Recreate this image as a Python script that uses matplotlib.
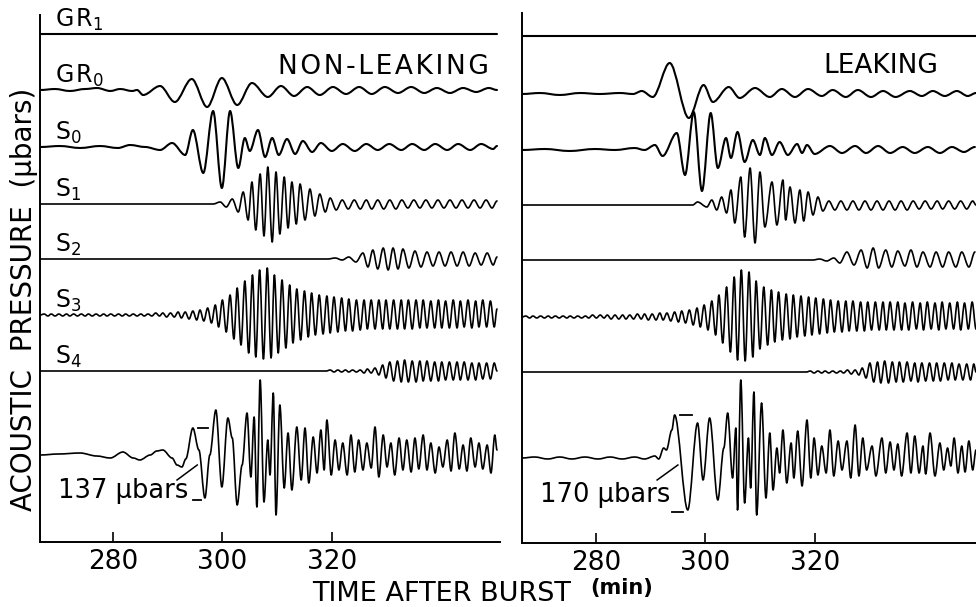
import matplotlib
matplotlib.use("Agg")
import matplotlib.pyplot as plt
from matplotlib.path import Path
from matplotlib.patches import PathPatch

# ---------------- DATA (time in min, pressure in relative units; extrema) -------------
trace_labels = ["GR1", "GR0", "S0", "S1", "S2", "S3", "S4", "TOTAL"]
panel_titles = ["NON-LEAKING", "LEAKING"]
cal_labels = ["137 \u00b5bars", "170 \u00b5bars"]
tick_values = [280, 300, 320]
tick_labels = ["280", "300", "320"]

gr1_left = [(266.7, 0), (350.2, 0)]
gr0_left = [(266.7,0),(269.4,1),(272.1,-1),(274.9,1),(277.1,2),(279.5,-1),(281.3,1),(283.5,-1),(284.4,0),(285.5,-5),
            (288.6,4),(291.3,-12),(294.4,11),(297.2,-17),(299.9,12),(302.7,-15),(305.4,7),(308.3,-7),(310.7,4),(313.1,-6),
            (315.5,3),(317.8,-5),(320.2,3),(322.6,-4),(325.0,3),(327.3,-4),(329.7,3),(332.1,-3),(334.5,3),(336.9,-3),
            (339.2,2),(341.6,-3),(344.0,2),(346.4,-2),(348.7,2),(350.2,0)]
s0_left = [(266.7,0),(270.3,1),(274.0,-1),(277.6,1),(280.9,-1),(283.1,2),(285.9,0),(288.6,-3),(290.8,4),(293.2,-8),
           (294.6,17),(296.5,-26),(298.3,36),(299.9,-41),(301.4,36),(302.9,-21),(304.1,9),(305.0,-4),(306.5,17),(307.8,-10),
           (309.1,9),(310.3,-8),(311.8,8),(313.3,-7),(314.7,6),(316.4,-5),(318.0,4),(320.0,-4),(322.0,3),(324.2,-4),
           (326.3,3),(328.4,-3),(330.5,3),(332.7,-3),(334.7,3),(336.9,-3),(338.9,3),(341.1,-3),(343.1,3),(345.3,-3),
           (347.3,3),(349.5,-2),(350.2,1)]
s1_left = [(266.7,0),(298.3,0),(299.6,2),(300.7,-3),(301.8,5),(302.9,-8),(303.8,12),(304.7,-16),(305.4,22),(306.1,-26),
           (306.9,30),(307.6,-32),(308.3,37),(309.1,-38),(309.8,32),(310.5,-30),(311.3,27),(312.0,-24),(312.7,22),(313.5,-20),
           (314.2,20),(315.1,-16),(316.0,15),(316.9,-12),(317.8,10),(318.8,-8),(319.7,6),(320.8,-6),(321.9,4),(323.0,-5),
           (324.1,4),(325.2,-5),(326.3,4),(327.3,-5),(328.4,4),(329.5,-5),(330.6,4),(331.7,-5),(332.8,4),(333.9,-4),
           (335.0,4),(336.1,-4),(337.2,4),(338.3,-4),(339.4,4),(340.5,-4),(341.6,4),(342.7,-4),(343.8,4),(344.9,-4),
           (346.0,4),(347.1,-4),(348.2,4),(349.3,-4),(350.2,3)]
s2_left = [(266.7,0),(319.3,0),(320.6,1),(321.9,-1),(323.1,2),(324.4,-3),(325.7,6),(326.6,-8),(327.5,9),(328.4,-10),
           (329.4,11),(330.3,-11),(331.2,11),(332.1,-10),(333.0,10),(334.1,-9),(335.2,8),(336.3,-8),(337.4,7),(338.5,-7),
           (339.6,7),(340.7,-7),(341.8,7),(342.9,-7),(344.0,7),(345.1,-7),(346.2,6),(347.3,-6),(348.4,6),(349.5,-6),(350.2,2)]
s3_left = [(266.7,0),(267.4,1),(268.1,-1),(268.7,1),(269.4,-1),(270.1,1),(270.8,-1),(271.5,1),(272.1,-1),(272.8,1),
           (273.5,-1),(274.2,1),(274.9,-1),(275.5,1),(276.2,-1),(276.9,1),(277.6,-1),(278.3,1),(278.9,-1),(279.6,1),
           (280.3,-1),(281.0,1),(281.7,-1),(282.3,1),(283.0,-1),(283.7,1),(284.4,-1),(285.1,1),(285.7,-1),(286.4,1),
           (287.1,-1),(287.8,2),(288.5,-1),(289.1,2),(289.8,-2),(290.5,2),(291.2,-2),(291.9,3),(292.5,-3),(293.2,3),
           (293.9,-4),(294.6,4),(295.3,-5),(295.9,5),(296.6,-6),(297.3,7),(298.0,-8),(298.7,10),(299.3,-12),(300.0,15),
           (300.7,-17),(301.4,20),(302.1,-24),(302.7,27),(303.4,-30),(304.1,34),(304.8,-38),(305.5,40),(306.1,-42),(306.8,45),
           (307.5,-44),(308.2,47),(308.9,-43),(309.5,40),(310.2,-38),(310.9,35),(311.6,-33),(312.3,30),(312.9,-28),(313.6,26),
           (314.3,-25),(315.0,24),(315.7,-22),(316.3,22),(317.0,-20),(317.7,20),(318.4,-19),(319.1,19),(319.7,-18),(320.4,18),
           (321.1,-17),(321.8,17),(322.5,-16),(323.1,16),(323.8,-16),(324.5,15),(325.2,-15),(325.9,15),(326.5,-14),(327.2,15),
           (327.9,-14),(328.6,15),(329.3,-14),(329.9,15),(330.6,-14),(331.3,15),(332.0,-14),(332.7,15),(333.3,-14),(334.0,15),
           (334.7,-14),(335.4,15),(336.1,-13),(336.7,15),(337.4,-13),(338.1,14),(338.8,-13),(339.5,15),(340.1,-13),(340.8,14),
           (341.5,-13),(342.2,15),(342.9,-13),(343.5,14),(344.2,-12),(344.9,15),(345.6,-13),(346.3,14),(346.9,-12),(347.6,15),
           (348.3,-12),(349.0,14),(349.7,-12),(350.2,6)]
s4_left = [(266.7,0),(319.0,0),(319.7,1),(320.4,-1),(321.1,1),(321.8,-1),(322.5,1),(323.1,-1),(323.8,1),(324.5,-1),
           (325.2,1),(325.9,-2),(326.5,2),(327.2,-2),(327.9,3),(328.6,-4),(329.3,6),(329.9,-7),(330.6,9),(331.3,-10),
           (332.0,10),(332.7,-11),(333.3,11),(334.0,-11),(334.7,10),(335.4,-11),(336.1,10),(336.7,-10),(337.4,10),(338.1,-10),
           (338.8,9),(339.5,-10),(340.1,9),(340.8,-9),(341.5,9),(342.2,-9),(342.9,9),(343.5,-9),(344.2,9),(344.9,-9),
           (345.6,8),(346.3,-9),(346.9,8),(347.6,-8),(348.3,8),(349.0,-8),(349.7,8),(350.2,0)]
total_left = [(266.7,0),(270.0,1),(274.0,2),(277.0,-1),(279.5,-3),(281.8,3),(283.7,-3),(284.9,-5),(286.8,0),(288.0,4),
              (289.1,5),(290.8,-3),(291.7,-10),(292.6,-12),(293.3,-4),(294.6,27),(295.7,5),(296.8,-43),(297.7,0),(298.8,45),
              (299.9,-32),(301.0,37),(301.8,17),(302.7,-50),(303.6,-10),(304.5,42),(305.2,-22),(305.8,38),(306.3,-52),(306.9,75),
              (307.6,-47),(308.3,15),(308.7,-20),(309.3,62),(309.8,-60),(310.5,50),(311.3,-33),(312.0,22),(312.7,-35),(313.6,28),
              (314.4,-25),(315.1,27),(315.8,-28),(316.6,18),(317.3,-18),(318.0,25),(318.6,-15),(319.1,35),(319.9,-20),(320.6,15),
              (321.3,-15),(322.0,12),(322.8,-20),(323.5,20),(324.2,-17),(324.9,15),(325.7,-15),(326.4,12),(327.2,-13),(327.9,28),
              (328.6,-22),(329.4,20),(330.1,-12),(330.8,12),(331.5,-20),(332.3,17),(333.0,-15),(333.7,15),(334.5,-17),(335.2,17),
              (335.9,-14),(336.7,20),(337.4,-15),(338.1,12),(338.9,-18),(339.6,8),(340.3,-12),(341.1,15),(341.8,-16),(342.5,22),
              (343.3,-14),(344.0,10),(344.7,-16),(345.4,17),(346.2,-12),(346.9,12),(347.6,-14),(348.4,10),(349.1,-18),(349.8,20),
              (350.2,5)]

gr1_right = [(266.5, 0), (350.0, 0)]
gr0_right = [(266.5,0),(269.8,1),(273.4,-1),(277.1,1),(280.7,0),(284.4,1),(286.8,0),(288.4,3),(290.4,-3),(293.5,31),
             (297.0,-24),(299.7,9),(301.4,-8),(304.3,7),(306.3,-4),(309.1,6),(311.8,-3),(314.0,5),(316.4,-3),(318.8,5),
             (321.3,-2),(323.3,4),(325.7,-3),(327.9,4),(330.3,-3),(332.5,3),(334.8,-3),(337.4,3),(339.6,-2),(341.6,3),
             (343.8,-2),(346.0,3),(348.0,-2),(349.5,1)]
s0_right = [(266.5,0),(270.7,1),(275.2,-1),(279.8,1),(283.5,0),(287.1,2),(288.9,0),(290.8,5),(292.2,-6),(294.8,17),
            (296.3,-25),(297.9,38),(299.4,-41),(301.0,37),(302.3,-18),(303.8,12),(304.7,-8),(305.9,18),(307.2,-12),(308.7,10),
            (310.0,-5),(310.9,12),(312.2,-5),(313.6,8),(315.1,-5),(316.8,6),(317.7,-3),(318.6,5),(320.0,-4),(322.8,4),
            (325.0,-3),(327.4,4),(329.4,-3),(331.6,4),(333.8,-3),(336.1,3),(338.3,-3),(340.7,3),(342.9,-3),(345.1,3),
            (347.3,-2),(349.3,3)]
s1_right = [(266.5,0),(297.7,0),(298.6,3),(300.3,-2),(301.2,5),(302.1,-5),(303.0,8),(303.9,-8),(304.7,15),(305.4,-18),
            (306.5,28),(307.2,-32),(308.2,37),(309.1,-38),(310.0,33),(310.9,-22),(312.2,23),(313.1,-20),(314.2,25),(314.7,-15),
            (315.5,18),(316.4,-18),(317.3,15),(318.0,-16),(318.8,13),(319.7,-10),(320.6,8),(321.5,-6),(322.6,4),(323.7,-5),
            (324.8,4),(325.9,-5),(327.0,4),(328.1,-5),(329.2,4),(330.3,-5),(331.4,4),(332.5,-5),(333.6,4),(334.7,-5),
            (335.8,4),(336.9,-5),(338.0,4),(339.1,-4),(340.2,4),(341.3,-4),(342.4,4),(343.4,-4),(344.5,4),(345.6,-4),
            (346.7,4),(347.8,-4),(348.9,4),(349.5,0)]
s2_right = [(266.5,0),(319.7,0),(320.9,1),(322.2,-1),(323.5,2),(324.6,-3),(325.9,8),(327.2,-5),(328.5,10),(329.6,-8),
            (330.7,12),(331.7,-8),(333.0,10),(334.1,-7),(335.2,9),(336.5,-6),(337.6,10),(338.7,-7),(339.8,8),(341.1,-7),
            (342.2,8),(343.4,-7),(344.5,8),(345.8,-7),(346.9,8),(348.2,-7),(349.3,8)]
s3_right = [(266.5,0),(267.2,1),(267.9,-1),(268.5,1),(269.2,-1),(269.9,1),(270.6,-1),(271.3,1),(271.9,-1),(272.6,1),
            (273.3,-1),(274.0,1),(274.7,-1),(275.3,1),(276.0,-1),(276.7,1),(277.4,-1),(278.1,1),(278.7,-1),(279.4,2),
            (280.1,-1),(280.8,2),(281.5,-1),(282.1,2),(282.8,-2),(283.5,2),(284.2,-2),(284.9,2),(285.5,-2),(286.2,2),
            (286.9,-2),(287.6,3),(288.3,-2),(288.9,3),(289.6,-3),(290.3,3),(291.0,-3),(291.7,4),(292.3,-3),(293.0,4),
            (293.7,-4),(294.4,5),(295.1,-5),(295.7,6),(296.4,-6),(297.1,7),(297.8,-8),(298.5,9),(299.1,-10),(299.8,12),
            (300.5,-13),(301.2,16),(301.9,-18),(302.5,22),(303.2,-26),(303.9,30),(304.6,-35),(305.3,40),(305.9,-43),(306.6,47),
            (307.3,-44),(308.0,45),(308.7,-40),(309.3,36),(310.0,-32),(310.7,30),(311.4,-28),(312.1,27),(312.7,-25),(313.4,25),
            (314.1,-23),(314.8,23),(315.5,-22),(316.1,22),(316.8,-20),(317.5,21),(318.2,-19),(318.9,20),(319.5,-18),(320.2,19),
            (320.9,-17),(321.6,18),(322.3,-16),(322.9,17),(323.6,-15),(324.3,16),(325.0,-15),(325.7,16),(326.3,-14),(327.0,16),
            (327.7,-14),(328.4,15),(329.1,-14),(329.7,15),(330.4,-13),(331.1,15),(331.8,-13),(332.5,15),(333.1,-13),(333.8,15),
            (334.5,-13),(335.2,15),(335.9,-13),(336.5,14),(337.2,-13),(337.9,15),(338.6,-12),(339.3,14),(339.9,-13),(340.6,15),
            (341.3,-12),(342.0,14),(342.7,-13),(343.3,15),(344.0,-12),(344.7,14),(345.4,-12),(346.1,15),(346.7,-13),(347.4,14),
            (348.1,-12),(348.8,15),(349.5,-12)]
s4_right = [(266.5,0),(318.5,0),(319.2,1),(319.9,-1),(320.6,1),(321.3,-1),(321.9,1),(322.6,-1),(323.3,1),(324.0,-1),
            (324.7,1),(325.3,-1),(326.0,2),(326.7,-2),(327.4,2),(328.1,-3),(328.7,4),(329.4,-6),(330.1,9),(330.8,-10),
            (331.5,10),(332.1,-11),(332.8,11),(333.5,-11),(334.2,10),(334.9,-10),(335.5,10),(336.2,-10),(336.9,10),(337.6,-9),
            (338.3,9),(338.9,-10),(339.6,9),(340.3,-9),(341.0,9),(341.7,-9),(342.3,9),(343.0,-9),(343.7,9),(344.4,-8),
            (345.1,9),(345.7,-8),(346.4,8),(347.1,-8),(347.8,8),(348.5,-8),(349.1,8),(349.5,0)]
total_right = [(266.5,0),(268.8,1),(271.2,-1),(273.4,1),(275.6,-1),(278.0,1),(280.4,-1),(282.6,1),(284.8,-1),(287.1,1),
               (288.9,-1),(290.8,2),(291.5,-1),(292.4,10),(292.9,8),(293.9,28),(294.4,43),(296.8,-52),(298.6,35),(299.6,-22),
               (300.8,40),(302.3,-42),(303.4,10),(304.1,45),(305.0,-20),(305.6,30),(305.9,-52),(306.5,78),(307.2,-45),(307.9,20),
               (308.3,-30),(308.9,66),(309.4,-57),(310.3,55),(311.1,-40),(311.8,25),(312.4,-32),(313.1,10),(313.6,-15),(314.2,28),
               (314.9,-25),(315.7,15),(316.2,-20),(316.9,27),(317.7,-28),(318.6,38),(319.3,-20),(319.9,20),(320.6,-17),(321.3,12),
               (322.1,-15),(322.8,28),(323.5,-18),(324.3,17),(325.0,-12),(325.9,17),(326.6,-20),(327.4,33),(328.1,-18),(328.8,20),
               (329.5,-12),(330.5,12),(331.2,-18),(332.3,20),(333.0,-15),(333.8,16),(334.5,-12),(335.2,14),(335.9,-18),(336.9,25),
               (337.6,-15),(338.3,22),(339.1,-15),(339.8,12),(340.3,-16),(341.1,25),(342.0,-18),(342.9,15),(343.6,-12),(344.3,10),
               (344.9,-8),(345.5,20),(346.2,-15),(346.9,12),(347.5,-14),(348.2,17),(348.9,-12),(349.5,8)]

left_traces = [gr1_left, gr0_left, s0_left, s1_left, s2_left, s3_left, s4_left, total_left]
right_traces = [gr1_right, gr0_right, s0_right, s1_right, s2_right, s3_right, s4_right, total_right]

# ---------------- LAYOUT ----------------
W, H = 976, 607
plt.rcParams["font.family"] = ["DejaVu Sans"]
fig = plt.figure(figsize=(W / 100, H / 100), dpi=100)


def fbox(x0, y0, x1, y1):
    return [x0 / W, 1 - y1 / H, (x1 - x0) / W, (y1 - y0) / H]


axL = fig.add_axes(fbox(40, 15, 500, 542))
axR = fig.add_axes(fbox(522, 13, 976, 543))
HS = "\u200a"
panels = [
    dict(ax=axL, traces=left_traces, xlim=(266.65, 350.75), ylim=(0, 527),
         offsets=[508, 452, 395, 338, 283, 227, 171, 87], title_x=0.517, title_y=468, title_sp=HS,
         cal_text=(269.9, -43), cal_line=((291.7, -25), (295.4, -10)),
         cal_top=(0.9, 2.8), cal_bot=(-2.2, -0.7), labels=True),
    dict(ax=axR, traces=right_traces, xlim=(266.5, 349.5), ylim=(0, 530),
         offsets=[507, 449, 393, 338, 283, 226, 171, 85], title_x=0.663, title_y=470, title_sp="",
         cal_text=(269.8, -44), cal_line=((291.2, -22), (295.0, -7)),
         cal_top=(1.0, 3.2), cal_bot=(-2.9, -0.9), labels=False),
]

label_tex = ["G" + HS + r"R$_\mathregular{1}$", "G" + HS + r"R$_\mathregular{0}$", r"S$_\mathregular{0}$",
             r"S$_\mathregular{1}$", r"S$_\mathregular{2}$", r"S$_\mathregular{3}$", r"S$_\mathregular{4}$", None]


def smooth_path(pts, base):
    verts = [(pts[0][0], base + pts[0][1])]
    codes = [Path.MOVETO]
    for (t0, p0), (t1, p1) in zip(pts[:-1], pts[1:]):
        dt = t1 - t0
        verts += [(t0 + dt / 3, base + p0), (t1 - dt / 3, base + p1), (t1, base + p1)]
        codes += [Path.CURVE4] * 3
    return Path(verts, codes)


for i, P in enumerate(panels):
    ax = P["ax"]
    ax.set_xlim(*P["xlim"])
    ax.set_ylim(*P["ylim"])
    for name in ("top", "right"):
        ax.spines[name].set_visible(False)
    for name in ("left", "bottom"):
        ax.spines[name].set_linewidth(1.4)
    ax.set_yticks([])
    ax.set_xticks(tick_values)
    ax.set_xticklabels(tick_labels)
    ax.tick_params(axis="x", direction="in", length=7, width=1.2, labelsize=19, pad=5)
    ax.patch.set_alpha(0)

    for k, (tr, off) in enumerate(zip(P["traces"], P["offsets"])):
        lw = 1.5 if k < 3 else 1.2
        ax.add_patch(PathPatch(smooth_path(tr, off), fill=False, ec="black", lw=lw,
                               capstyle="round", joinstyle="round"))
        if P["labels"] and label_tex[k]:
            ax.text(0.033, off + 7, label_tex[k], transform=ax.get_yaxis_transform(),
                    fontsize=17, va="baseline", ha="left")

    title = P["title_sp"].join(panel_titles[i])
    ax.text(P["title_x"], P["title_y"], title, transform=ax.get_yaxis_transform(),
            fontsize=19, va="baseline", ha="left")

    # calibration marks on the summed trace (peak / trough of first pulse)
    tot = P["traces"][-1]
    base = P["offsets"][-1]
    win = [pt for pt in tot if 293.0 <= pt[0] <= 297.5]
    pk = max(win, key=lambda q: q[1])
    tr_ = min(win, key=lambda q: q[1])
    ax.plot([pk[0] + P["cal_top"][0], pk[0] + P["cal_top"][1]], [base + pk[1]] * 2, color="black", lw=1.3)
    ax.plot([tr_[0] + P["cal_bot"][0], tr_[0] + P["cal_bot"][1]], [base + tr_[1] - 2] * 2, color="black", lw=1.3)
    (xa, ya), (xb, yb) = P["cal_line"]
    ax.plot([xa, xb], [base + ya, base + yb], color="black", lw=1.1)
    ax.text(P["cal_text"][0], base + P["cal_text"][1], cal_labels[i], fontsize=18.5, va="baseline", ha="left")

fig.text(0.025, 0.507, "ACOUSTIC  PRESSURE  (\u00b5bars)", rotation=90, ha="center", va="center", fontsize=20)
fig.text(312 / W, 1 - 601 / H, "TIME AFTER BURST", fontsize=19.5, ha="left", va="baseline")
fig.text(590 / W, 1 - 594 / H, "(min)", fontsize=15, fontweight="bold", ha="left", va="baseline")

fig.savefig("out.png", dpi=100)
